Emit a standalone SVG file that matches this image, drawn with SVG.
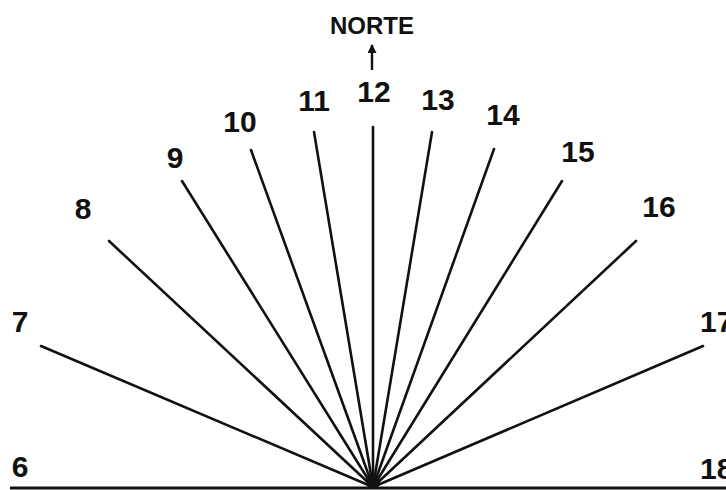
<svg xmlns="http://www.w3.org/2000/svg" width="726" height="490" viewBox="0 0 726 490">
<style>
.ln{stroke:#111;stroke-width:2.6;stroke-linecap:round;fill:none}
.lb{font-family:"Liberation Sans",Arial,sans-serif;font-weight:bold;font-size:30px;fill:#111;text-anchor:middle}
.nt{font-family:"Liberation Sans",Arial,sans-serif;font-weight:bold;font-size:24px;fill:#111;text-anchor:middle}
</style>
<defs>
<marker id="ah" viewBox="0 0 10 10" refX="9" refY="5" markerWidth="10" markerHeight="9" orient="auto" markerUnits="userSpaceOnUse">
<path d="M0,0 L10,5 L0,10 Z" fill="#111"/>
</marker>
</defs>
<rect width="726" height="490" fill="#fff"/>
<g id="connectors">
<line class="ln" x1="373" y1="487" x2="41" y2="346"/>
<line class="ln" x1="373" y1="487" x2="109" y2="241"/>
<line class="ln" x1="373" y1="487" x2="182" y2="181"/>
<line class="ln" x1="373" y1="487" x2="251" y2="150"/>
<line class="ln" x1="373" y1="487" x2="314" y2="132"/>
<line class="ln" x1="373" y1="487" x2="373" y2="127"/>
<line class="ln" x1="373" y1="487" x2="432" y2="132"/>
<line class="ln" x1="373" y1="487" x2="494" y2="149"/>
<line class="ln" x1="373" y1="487" x2="562" y2="181"/>
<line class="ln" x1="373" y1="487" x2="636" y2="241"/>
<line class="ln" x1="373" y1="487" x2="703" y2="346"/>
<line x1="10" y1="488" x2="726" y2="488" stroke="#111" stroke-width="3"/>
<circle cx="373" cy="482" r="7" fill="#111"/>
</g>
<g id="north">
<text class="nt" x="372" y="34">NORTE</text>
<line x1="372" y1="70" x2="372" y2="45" stroke="#111" stroke-width="2.4" marker-end="url(#ah)"/>
</g>
<g id="h6"><text class="lb" x="20" y="477">6</text></g>
<g id="h7"><text class="lb" x="20" y="332">7</text></g>
<g id="h8"><text class="lb" x="83" y="219">8</text></g>
<g id="h9"><text class="lb" x="175" y="168">9</text></g>
<g id="h10"><text class="lb" x="240" y="132">10</text></g>
<g id="h11"><text class="lb" x="314" y="111">11</text></g>
<g id="h12"><text class="lb" x="374" y="102">12</text></g>
<g id="h13"><text class="lb" x="438" y="110">13</text></g>
<g id="h14"><text class="lb" x="503" y="125">14</text></g>
<g id="h15"><text class="lb" x="578" y="162">15</text></g>
<g id="h16"><text class="lb" x="659" y="217">16</text></g>
<g id="h17"><text class="lb" x="700" y="332" style="text-anchor:start">17</text></g>
<g id="h18"><text class="lb" x="700" y="479" style="text-anchor:start">18</text></g>
</svg>
